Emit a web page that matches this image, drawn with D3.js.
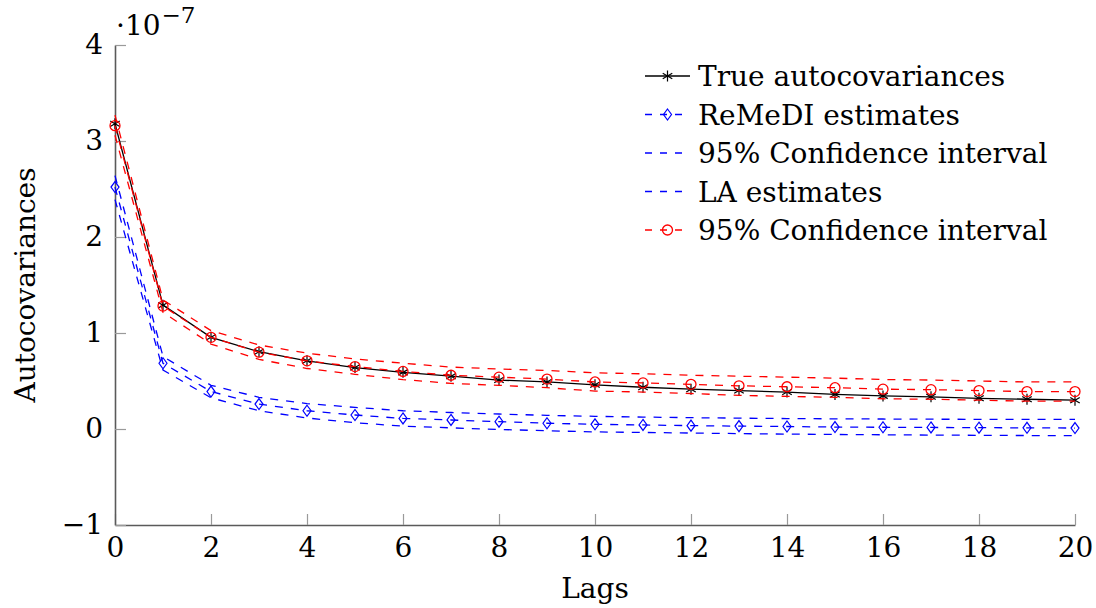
<!DOCTYPE html>
<html>
<head>
<meta charset="utf-8">
<script src="https://cdn.jsdelivr.net/npm/d3@7"></script>
<style>
  html, body { margin: 0; padding: 0; background: #fff; }
  svg { display: block; }
  text { font-family: "DejaVu Serif", "Liberation Serif", serif; fill: #000; }
</style>
</head>
<body>
<svg id="chart" width="1096" height="608"></svg>
<script>
// Values in units of 1e-7
const lags = [0,1,2,3,4,5,6,7,8,9,10,11,12,13,14,15,16,17,18,19,20];
const trueVals    = [3.18, 1.29, 0.955, 0.805, 0.71, 0.64, 0.59, 0.55, 0.51, 0.49, 0.46, 0.435, 0.415, 0.40, 0.385, 0.36, 0.345, 0.335, 0.32, 0.31, 0.30];
const remediVals  = [2.52, 0.685, 0.39, 0.26, 0.19, 0.146, 0.11, 0.094, 0.076, 0.06, 0.049, 0.042, 0.035, 0.03, 0.026, 0.02, 0.018, 0.016, 0.014, 0.012, 0.01];
const remediUpper = [2.64, 0.755, 0.455, 0.33, 0.265, 0.225, 0.19, 0.172, 0.156, 0.142, 0.132, 0.124, 0.118, 0.113, 0.109, 0.106, 0.104, 0.102, 0.101, 0.10, 0.10];
const remediLower = [2.39, 0.615, 0.325, 0.19, 0.115, 0.065, 0.03, 0.012, -0.005, -0.018, -0.03, -0.036, -0.042, -0.048, -0.053, -0.057, -0.06, -0.063, -0.066, -0.068, -0.07];
const laVals      = [3.16, 1.28, 0.955, 0.80, 0.71, 0.65, 0.60, 0.56, 0.54, 0.52, 0.49, 0.48, 0.465, 0.45, 0.44, 0.43, 0.415, 0.41, 0.40, 0.39, 0.39];
const laUpper     = [3.27, 1.345, 1.025, 0.875, 0.79, 0.73, 0.685, 0.645, 0.625, 0.61, 0.585, 0.575, 0.56, 0.55, 0.54, 0.53, 0.515, 0.51, 0.50, 0.49, 0.49];
const laLower     = [3.06, 1.215, 0.885, 0.725, 0.63, 0.57, 0.515, 0.475, 0.455, 0.43, 0.395, 0.385, 0.37, 0.35, 0.34, 0.33, 0.315, 0.31, 0.30, 0.29, 0.29];
const xTicks = [0,2,4,6,8,10,12,14,16,18,20];
const yTicks = [-1,0,1,2,3,4];
const legendLabels = ["True autocovariances", "ReMeDI estimates", "95% Confidence interval", "LA estimates", "95% Confidence interval"];

const svg = d3.select("#chart");
const x = d3.scaleLinear().domain([0, 20]).range([115, 1075]);
const y = d3.scaleLinear().domain([-1, 4]).range([525, 45]);
const FS = 28;
const DASH = "8,8";

// Axes
const gx = svg.append("g").attr("transform", `translate(0,${y(-1)})`)
  .call(d3.axisBottom(x).tickValues(xTicks).tickFormat(d3.format("d")).tickSizeInner(-11).tickSizeOuter(0).tickPadding(12));
const gy = svg.append("g").attr("transform", `translate(${x(0)},0)`)
  .call(d3.axisLeft(y).tickValues(yTicks).tickFormat(d3.format("d")).tickSizeInner(-11).tickSizeOuter(0).tickPadding(12));
[gx, gy].forEach(g => {
  g.select(".domain").attr("stroke", "#5a5a5a").attr("stroke-width", 1.6);
  g.selectAll(".tick line").attr("stroke", "#9a9a9a").attr("stroke-width", 1.2);
  g.selectAll(".tick text").attr("font-family", "DejaVu Serif").attr("font-size", FS).attr("fill", "#000");
});

// Axis labels
svg.append("text").attr("x", (x(0) + x(20)) / 2).attr("y", 598).attr("text-anchor", "middle")
  .attr("font-size", FS).text("Lags");
svg.append("text").attr("transform", `translate(35,${(y(-1) + y(4)) / 2}) rotate(-90)`).attr("text-anchor", "middle")
  .attr("font-size", FS).text("Autocovariances");
const expo = svg.append("text").attr("x", 116).attr("y", 35).attr("font-size", FS);
expo.append("tspan").text("·10");
expo.append("tspan").attr("font-size", 23).attr("dy", -12).attr("dx", 1).text("−7");

// Lines
const line = d3.line().x((d, i) => x(lags[i])).y(d => y(d));
const plot = svg.append("g");

function addLine(vals, color, dashed) {
  plot.append("path").datum(vals).attr("d", line).attr("fill", "none")
    .attr("stroke", color).attr("stroke-width", 1.3)
    .attr("stroke-dasharray", dashed ? DASH : null);
}
function asterisk(g, cx, cy, r) {
  [90, 30, -30].forEach(a => {
    const rad = a * Math.PI / 180;
    g.append("line").attr("x1", cx - r * Math.cos(rad)).attr("y1", cy - r * Math.sin(rad))
      .attr("x2", cx + r * Math.cos(rad)).attr("y2", cy + r * Math.sin(rad))
      .attr("stroke", "#000").attr("stroke-width", 1.2);
  });
}
function diamond(g, cx, cy) {
  g.append("path").attr("d", `M${cx},${cy - 5.5}L${cx + 4},${cy}L${cx},${cy + 5.5}L${cx - 4},${cy}Z`)
    .attr("fill", "none").attr("stroke", "#0000ff").attr("stroke-width", 1.2);
}
function circle(g, cx, cy) {
  g.append("circle").attr("cx", cx).attr("cy", cy).attr("r", 5)
    .attr("fill", "none").attr("stroke", "#ff0000").attr("stroke-width", 1.3);
}

// True
addLine(trueVals, "#000", false);
const mTrue = plot.append("g");
trueVals.forEach((v, i) => asterisk(mTrue, x(lags[i]), y(v), 5.5));
// ReMeDI
addLine(remediVals, "#0000ff", true);
addLine(remediUpper, "#0000ff", true);
addLine(remediLower, "#0000ff", true);
const mRem = plot.append("g");
remediVals.forEach((v, i) => diamond(mRem, x(lags[i]), y(v)));
// LA
addLine(laVals, "#ff0000", true);
addLine(laUpper, "#ff0000", true);
addLine(laLower, "#ff0000", true);
const mLa = plot.append("g");
laVals.forEach((v, i) => circle(mLa, x(lags[i]), y(v)));

// Legend
const legendStyles = [
  {color: "#000", dashed: false, mark: "asterisk"},
  {color: "#0000ff", dashed: true, mark: "diamond"},
  {color: "#0000ff", dashed: true, mark: null},
  {color: "#0000ff", dashed: true, mark: null},
  {color: "#ff0000", dashed: true, mark: "circle"}
];
const leg = svg.append("g");
legendLabels.forEach((lab, i) => {
  const cy = 76 + i * 38.5;
  const st = legendStyles[i];
  leg.append("line").attr("x1", 645).attr("x2", 690).attr("y1", cy).attr("y2", cy)
    .attr("stroke", st.color).attr("stroke-width", 1.3)
    .attr("stroke-dasharray", st.dashed ? "7,8" : null);
  if (st.mark === "asterisk") asterisk(leg, 667.5, cy, 5.5);
  if (st.mark === "diamond") diamond(leg, 667.5, cy);
  if (st.mark === "circle") circle(leg, 667.5, cy);
  leg.append("text").attr("x", 698).attr("y", cy).attr("dy", "0.36em").attr("font-size", FS).text(lab);
});
</script>
</body>
</html>
